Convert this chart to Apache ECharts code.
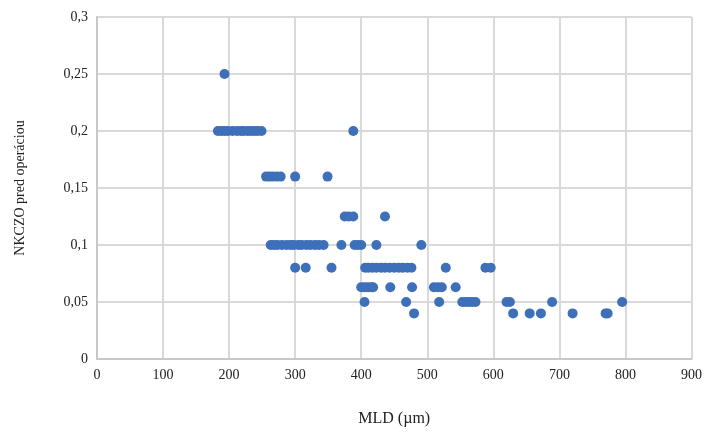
<!DOCTYPE html>
<html>
<head>
<meta charset="utf-8">
<script src="https://cdn.jsdelivr.net/npm/echarts@6/dist/echarts.min.js"></script>
<style>html,body{margin:0;padding:0;background:#fff;overflow:hidden;}#c{width:100vw;height:100vh;}</style>
</head>
<body>
<div id="c"></div>
<script>
// MLD (µm) values grouped by NKCZO level
const mld_025 = [193];
const mld_020 = [183, 188, 193, 198, 205, 212, 218, 222, 228, 233, 238, 243, 249, 388];
const mld_016 = [256, 261, 266, 272, 278, 300, 349];
const mld_0125 = [375, 381, 388, 436];
const mld_010 = [263, 268, 273, 280, 287, 293, 298, 305, 310, 317, 323, 330, 336, 343, 370, 390, 395, 400, 423, 491];
const mld_008 = [300, 316, 355, 406, 411, 417, 423, 430, 436, 443, 450, 457, 463, 470, 476, 528, 588, 596];
const mld_0063 = [400, 405, 410, 415, 418, 444, 477, 510, 516, 522, 543];
const mld_005 = [405, 468, 518, 553, 558, 563, 568, 573, 620, 625, 689, 795];
const mld_004 = [480, 630, 655, 672, 720, 770, 773];

const levels = [0.25, 0.2, 0.16, 0.125, 0.1, 0.08, 0.063, 0.05, 0.04];
const groups = [mld_025, mld_020, mld_016, mld_0125, mld_010, mld_008, mld_0063, mld_005, mld_004];

const xTicks = [0, 100, 200, 300, 400, 500, 600, 700, 800, 900];
const yTicks = ['0', '0,05', '0,1', '0,15', '0,2', '0,25', '0,3'];

const points = [];
groups.forEach((g, i) => g.forEach(x => points.push([x, levels[i]])));

const chart = echarts.init(document.getElementById('c'));
const font = 'Liberation Serif';
chart.setOption({
  animation: false,
  grid: { left: 97, right: 10, top: 17, bottom: 68 },
  xAxis: {
    type: 'value', min: xTicks[0], max: xTicks[xTicks.length - 1], interval: 100,
    name: 'MLD (µm)', nameLocation: 'middle', nameGap: 52,
    nameTextStyle: { fontFamily: font, fontSize: 16, color: '#222' },
    axisLine: { lineStyle: { color: '#C8C8C8', width: 2 } },
    axisTick: { show: false },
    axisLabel: { fontFamily: font, fontSize: 14, color: '#222', margin: 9,
      formatter: v => String(xTicks[Math.round(v / 100)]) },
    splitLine: { show: true, lineStyle: { color: '#D9D9D9', width: 2 } }
  },
  yAxis: {
    type: 'value', min: 0, max: 0.3, interval: 0.05,
    name: 'NKCZO pred operáciou', nameLocation: 'middle', nameGap: 70,
    nameTextStyle: { fontFamily: font, fontSize: 14, color: '#222' },
    axisLine: { show: true, lineStyle: { color: '#C8C8C8', width: 2 } },
    axisTick: { show: false },
    axisLabel: { fontFamily: font, fontSize: 14, color: '#222', margin: 9,
      formatter: v => yTicks[Math.round(v / 0.05)] },
    splitLine: { show: true, lineStyle: { color: '#D9D9D9', width: 2 } }
  },
  series: [{
    type: 'scatter',
    data: points,
    symbol: 'circle',
    symbolSize: 10,
    itemStyle: { color: '#3E70BA', opacity: 1 }
  }]
});
</script>
</body>
</html>
